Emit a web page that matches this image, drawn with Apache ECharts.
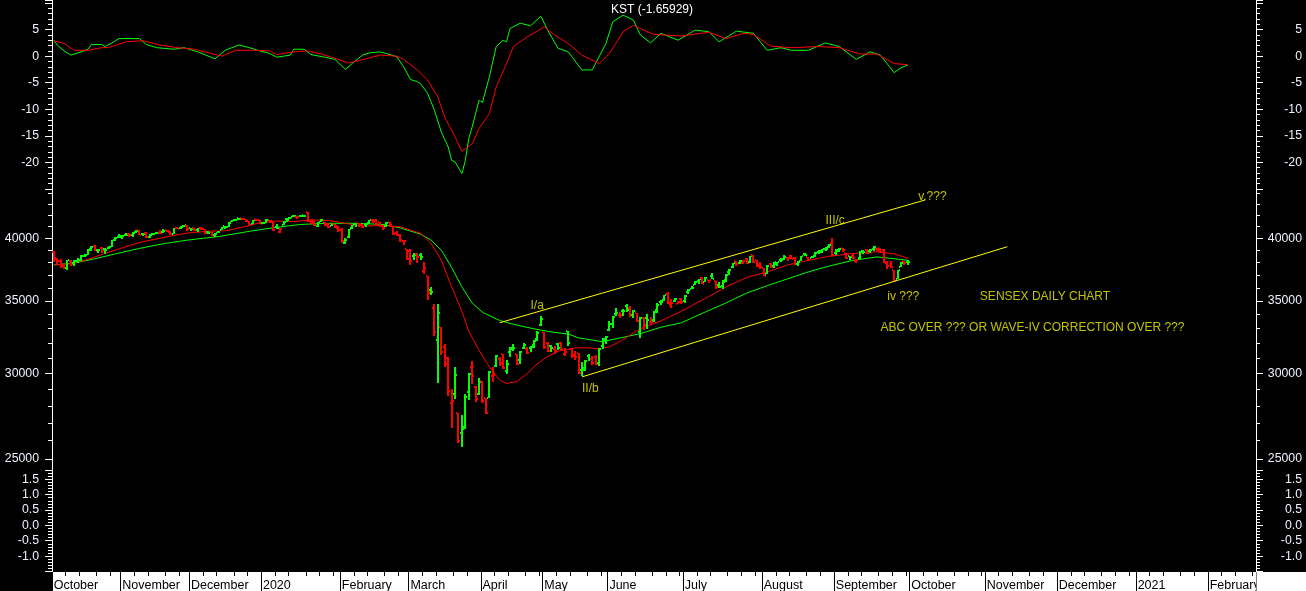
<!DOCTYPE html>
<html><head><meta charset="utf-8">
<script src="https://cdn.jsdelivr.net/npm/echarts@6.0.0/dist/echarts.min.js"></script>
<style>html,body{margin:0;padding:0;background:#000;overflow:hidden}#c{width:1306px;height:591px}</style>
</head><body><div id="c"></div>
<script>
// ---------- axis categories (trading days per month) ----------
const monthLabels = ['October','November','December','2020','February','March','April','May','June','July','August','September','October','November','December','2021','February'];
const monthDays   = [20,20,21,23,20,21,18,19,22,23,21,22,22,21,23,21,14];
const weekTickDays = [4,8,13,17,21];

// ---------- SENSEX daily OHLC (Oct 2019 - Sep 2020) ----------
const prevCloseStart = 38667;
const open = [
38813,38360,38128,37750,37548,38115,37930,38138,38220,38532,38630,39069,39393,39014,39145,39105,39188,39307,39888,40119,
40196,40246,40389,40310,40512,40695,40387,40456,40120,40346,40423,40462,40525,40704,40588,40400,40925,40884,41017,41085,
40857,40853,40706,40930,40768,40520,40500,40279,40463,40707,41033,40986,41448,41558,41757,41727,41664,41488,41258,41682,41570,
41350,41340,41554,41378,40983,40544,41138,41684,41733,41913,41900,41970,41996,42263,41522,41500,41107,41440,41396,41223,41050,41217,41062,
40753,39615,40119,40884,41201,41331,41200,41109,41310,41616,41534,41376,41070,41050,41400,41022,40424,40262,39782,39088,
38910,38487,38713,38621,37300,36950,35868,34472,32200,33104,31739,31011,28195,28732,27590,26437,26750,28838,30401,29170,28734,
29505,28497,28472,29815,30471,30950,31240,30146,31404,31694,31241,30902,31689,31590,31656,31886,32250,33260,
32748,31986,31816,31613,31965,32012,31290,32840,31571,31231,31342,30251,30347,31117,30909,31042,30707,31773,32263,
32913,33300,34018,34000,34236,34633,34483,33989,34124,32768,33735,33777,33451,33593,34337,34947,35053,35538,34725,35023,34807,35168,
35000,35657,35925,36215,36512,36764,36450,36584,36949,36501,36227,36110,36620,37211,37622,38120,37976,37960,38255,38040,38574,38188,37804,
37580,37091,37883,37731,37892,38195,38316,38337,38519,38376,37906,38098,38647,38452,38370,38540,38885,38929,39129,39270,39627,
38754,39053,39221,38776,38501,38548,38076,38354,38906,39001,38899,39064,39137,39145,38995,37972,37836,37370,36674,37602,38100,38016];
const high = [
38945,38366,38298,37800,38216,38178,38210,38339,38569,38679,39094,39344,39441,39131,39258,39220,39316,39880,40112,40392,
40248,40483,40466,40507,40689,40749,40458,40521,40352,40484,40534,40676,40816,40729,40638,40918,40966,41034,41163,41120,
40904,40901,40890,40950,40800,40612,40525,40450,40631,41010,41056,41401,41614,41719,41809,41752,41680,41510,41615,41690,41600,
41444,41650,41555,41378,41231,40868,41483,41775,41899,42059,41920,42032,42063,42274,41590,41520,41430,41643,41414,41322,41283,41227,41070,
40906,40035,40810,41179,41335,41358,41234,41318,41594,41702,41709,41420,41172,41373,41420,41022,40631,40365,39867,39088,
39083,38754,38801,38771,38000,36950,36059,34767,34769,33104,31969,31081,29009,30418,27590,27462,28707,30005,30818,29233,29718,
29505,28497,30157,30408,31227,31102,31263,30840,31725,31950,31244,31436,31980,31729,31790,32189,32814,33887,
32748,32055,31884,31772,32043,32050,31657,32845,31583,31455,31342,30721,30875,31236,31139,31177,31694,32328,32503,
33561,33888,34506,34186,34434,34811,34611,34333,34149,33860,33827,34022,33795,34272,34843,35100,35482,35707,35130,35254,35030,35233,
35454,35877,36110,36506,36719,36853,36800,36621,37160,36521,36470,36591,37059,37492,37989,38135,38180,38174,38344,38524,38617,38228,38000,
37581,37765,37981,38071,38064,38321,38588,38452,38613,38473,38082,38556,38757,38452,38542,38843,38994,39124,39293,39495,40010,
39073,39196,39224,38802,38546,38790,38269,38903,39038,39137,39100,39360,39211,39189,39088,38134,38115,37370,37428,38050,38154,38236];
const low = [
38056,37889,37553,37464,37415,37751,37746,37990,38100,38456,38609,38905,38922,38798,38763,38725,39136,39262,39767,40043,
39957,40215,40095,40121,40444,40248,40219,40004,40032,40244,40337,40382,40472,40512,40287,40360,40762,40783,40952,40672,
40663,40596,40575,40716,40339,40379,40205,40135,40446,40681,40800,40966,41376,41499,41573,41573,41422,41114,41202,41485,41204,
41225,41340,41345,40614,40821,40476,41124,41447,41705,41837,41703,41843,41867,41446,41246,41044,40999,41406,41084,40903,41022,40866,40557,
39632,39510,40041,40807,40996,40990,40869,40975,41270,41346,41130,41003,40682,41015,41080,40252,40187,39726,39453,38220,
37785,38220,37936,38235,37050,35109,35416,32493,29388,31214,30394,28613,26714,28433,25880,25638,26674,28330,29348,28227,28629,
28176,27501,28470,29461,30428,30474,30297,29968,31040,31445,30574,30600,31600,31250,31421,31658,32159,33215,
31589,31400,31394,31279,31524,31532,31105,31834,30999,30871,29969,29860,30168,30791,30529,30576,30499,31600,31953,
32868,33033,33875,33787,33914,34208,33842,33749,33462,32348,32924,32979,33245,33459,34140,34701,35000,34801,34500,34894,34767,34812,
34885,35560,35877,36191,36326,36280,36435,36352,36645,35877,35976,35916,36477,37033,37536,37731,37859,37882,37863,37973,37948,37626,37457,
36911,37091,37574,37531,37718,38051,38222,38116,38255,37772,37688,38098,38560,38129,38321,38410,38684,38800,38962,39180,38494,
38618,38855,38893,38249,38175,38288,37935,38286,38662,38672,38801,38975,38910,38757,37915,37488,37536,36495,36663,37602,37810,37766];
const close = [
38305,38106,37673,37532,38178,37880,38127,38214,38506,38599,39052,39298,38964,39059,39020,39058,39250,39832,40051,40129,
40165,40301,40248,40469,40654,40323,40345,40116,40286,40357,40470,40469,40651,40575,40359,40889,40821,41021,41130,40794,
40802,40675,40850,40780,40446,40487,40240,40413,40582,40939,40939,41352,41559,41673,41681,41642,41461,41163,41575,41558,41254,
41306,41626,41464,40677,40869,40818,41452,41600,41859,41952,41872,41933,41945,41529,41324,41115,41386,41613,41155,40967,41198,40914,40723,
39736,39872,40789,41143,41306,41141,40980,41216,41566,41460,41258,41056,40895,41324,41170,40364,40282,39889,39746,38297,
38144,38623,38409,38471,37577,35634,35697,32778,34103,31390,30579,28869,28288,29916,25981,26675,28536,29947,29816,28440,29468,
28265,27591,30067,29894,31160,30690,30380,30602,31589,31648,30636,31380,31863,31327,31744,32115,32720,33717,
31715,31453,31686,31443,31642,31561,31371,32009,31123,31098,30029,30196,30819,30933,30673,30609,31605,32201,32424,
33303,33825,34110,33981,34287,34371,33957,34247,33538,33781,33229,33605,33508,34208,34731,34911,35430,34868,34843,35171,34962,34916,
35414,35843,36021,36487,36675,36330,36738,36594,36694,36033,36052,36471,37020,37418,37930,37871,38140,38129,37934,38493,38071,37736,37607,
36940,37688,37663,38025,38040,38182,38407,38370,38310,37877,38051,38528,38615,38220,38434,38799,38843,39073,39113,39467,38628,
38900,39086,38990,38357,38417,38365,38193,38840,38854,38756,39044,39303,38980,38845,38034,37734,37668,36553,37389,37982,37973,38068];

// ---------- moving averages [day index, value] ----------
const maFast = [[0,37800],[5,37900],[10,38250],[15,38750],[20,39200],[25,39650],[30,39950],[35,40250],[40,40500],[45,40600],[50,40650],[55,40950],[60,41350],[65,41500],[70,41450],[75,41600],[80,41550],[85,41300],[90,41050],[95,41100],[101,41000],[104,40700],[107,40430],[110,39580],[113,38170],[116,36070],[119,34250],[121,32820],[124,31520],[127,30420],[130,29570],[132,29370],[135,29480],[138,29990],[141,30630],[144,31100],[147,31450],[152,31680],[156,31680],[159,31600],[162,31750],[165,32100],[171,33000],[177,33550],[183,34250],[190,35200],[196,36070],[202,36800],[208,37240],[214,37800],[220,38170],[226,38500],[233,38720],[240,38870],[245,38700],[249,38340]];
const maSlow = [[0,37800],[6,37950],[12,38300],[18,38700],[25,39150],[32,39550],[39,39850],[48,40150],[58,40650],[65,40950],[72,41200],[80,41300],[88,41300],[96,41200],[101,40900],[107,40350],[110,39850],[113,39000],[116,37600],[119,36070],[122,34850],[125,34170],[130,33580],[134,33310],[140,32990],[145,32770],[150,32630],[153,32360],[157,32210],[160,32100],[164,32300],[171,32650],[177,33100],[183,33420],[190,34200],[196,34860],[202,35600],[208,36160],[214,36700],[220,37240],[226,37700],[233,38170],[240,38450],[245,38300],[249,38170]];

// ---------- KST and its signal [day index, value] ----------
const kstLine = [[0,3.0],[1,2.1],[3,1.0],[5,0.2],[8,0.8],[10,1.3],[11,2.2],[14,2.2],[15,1.8],[17,2.5],[19,3.3],[25,3.3],[27,2.2],[30,1.6],[35,1.3],[38,1.6],[42,0.8],[47,-0.5],[50,1.1],[54,2.1],[57,1.6],[60,1.0],[63,0.5],[65,-0.2],[69,0.2],[70,1.3],[73,1.3],[75,0.3],[79,-0.2],[82,-0.6],[85,-2.5],[87,-1.4],[90,0.2],[92,0.6],[95,0.8],[97,0.5],[100,-0.1],[102,-2.0],[104,-4.4],[106,-4.8],[107,-5.2],[109,-7.0],[111,-10.2],[113,-14.3],[115,-17.1],[116,-19.6],[117,-19.9],[119,-22.1],[120,-19.6],[121,-15.5],[122,-13.3],[124,-8.3],[125,-8.7],[127,-3.9],[129,1.8],[131,3.0],[132,2.7],[133,5.2],[136,6.2],[139,5.7],[142,7.5],[144,4.9],[147,1.5],[150,0.8],[154,-2.6],[157,-2.6],[161,2.4],[163,6.5],[166,7.7],[169,6.8],[171,4.0],[174,2.5],[177,4.3],[182,3.0],[187,4.9],[191,4.6],[194,2.7],[199,4.7],[204,4.3],[208,1.1],[212,1.6],[215,1.1],[220,1.1],[225,2.5],[229,1.8],[234,-0.6],[238,0.8],[241,0.2],[245,-3.1],[247,-2.2],[249,-1.66]];
const kstSignal = [[0,2.9],[3,2.4],[6,1.1],[10,1.1],[14,1.6],[16,1.6],[21,2.7],[26,2.9],[31,2.1],[36,1.6],[41,1.3],[46,0.5],[49,0.0],[53,1.1],[58,1.1],[63,1.0],[65,0.3],[70,0.8],[74,1.0],[78,0.4],[82,-0.4],[86,-1.3],[91,-0.5],[95,0.2],[100,0.0],[102,-0.6],[106,-2.6],[109,-4.5],[112,-7.7],[114,-11.5],[117,-15.2],[119,-17.9],[122,-16.5],[124,-13.6],[127,-10.8],[129,-5.8],[132,-1.4],[134,1.8],[138,3.6],[143,5.5],[146,4.0],[150,2.4],[154,0.2],[159,-1.4],[162,0.5],[166,4.6],[169,5.8],[171,5.2],[173,4.6],[175,4.1],[183,3.8],[191,4.5],[196,3.3],[201,4.3],[204,4.1],[209,1.9],[215,1.6],[223,1.8],[229,1.6],[235,0.4],[240,0.4],[245,-1.4],[249,-1.6]];

// ---------- tick values ----------
const priceMajorTicks = [25000, 30000, 35000, 40000];
const priceMinorTicks = [25000,26000,27000,28000,29000,30000,31000,32000,33000,34000,35000,36000,37000,38000,39000,40000,41000,42000,43000,44000];
const priceRange = [24425, 44430];
const kstRange = [-25, 10.566];
const lowerRange = [-1.5, 1.8];

// ---------- channel lines and notes ----------
const trendUpper = [[130,33420],[254,43400]];
const trendLower = [[154,29780],[278,39290]];
const notes = [
  {text:'I/a', idx:139, price:34630},
  {text:'II/b', idx:154, price:29060},
  {text:'III/c', idx:225, price:41545},
  {text:'v.???', idx:252, price:43705},
  {text:'iv ???', idx:243, price:35320},
  {text:'SENSEX DAILY CHART', idx:270, price:35320},
  {text:'ABC OVER ??? OR WAVE-IV CORRECTION OVER ???', idx:241, price:33040}
];
const kstTitle = 'KST (-1.65929)';

// ---------- build ----------
const cats = [], isMonthStart = [], isWeekTick = [];
monthDays.forEach((n, m) => {
  for (let k = 0; k < n; k++) {
    cats.push(m + '-' + k);
    isMonthStart.push(k === 0);
    isWeekTick.push(weekTickDays.indexOf(k) >= 0);
  }
});
const ohlc = close.map((c, i) => [i, open[i], high[i], low[i], c, i === 0 ? prevCloseStart : close[i - 1]]);

const FONT = "'Liberation Sans', Arial, sans-serif";
const LBL = {color:'#eef2ff', fontSize:12.3, fontFamily:FONT};
const WHITE = {color:'#ffffff', width:1};
const L = 52, R = 50;

function valAxis(grid, pos, range, interval, fmt) {
  return {
    gridIndex:grid, type:'value', position:pos, min:range[0], max:range[1], interval:interval,
    axisLine:{show:true, onZero:false, lineStyle:WHITE},
    axisTick:{show:true, length:7, lineStyle:WHITE},
    minorTick:{show:true, splitNumber:5, length:4, lineStyle:WHITE},
    splitLine:{show:false}, minorSplitLine:{show:false},
    axisLabel:Object.assign({}, LBL, pos === 'right' ? {align:'right', margin:46} : {margin:13}, {formatter:fmt})
  };
}
function priceTickAxis(pos, major) {
  const lr = [Math.log(priceRange[0]), Math.log(priceRange[1])];
  return {
    gridIndex:1, type:'value', position:pos, min:lr[0], max:lr[1],
    axisLine:{show:major, onZero:false, lineStyle:WHITE},
    axisTick:{show:true, length:major ? 7 : 4, lineStyle:WHITE, customValues:(major ? priceMajorTicks : priceMinorTicks).map(Math.log)},
    splitLine:{show:false},
    axisLabel: major ? Object.assign({}, LBL, pos === 'right' ? {align:'right', margin:46} : {margin:13},
      {customValues:priceMajorTicks.map(Math.log), formatter:v => String(Math.round(Math.exp(v)))}) : {show:false}
  };
}

const kstFmt = v => (v < -20 || v > 5) ? '' : String(v);
const lowFmt = v => (v < -1.2 || v > 1.6) ? '' : v.toFixed(1);

const option = {
  backgroundColor:'#000',
  animation:false,
  title:{text:kstTitle, left:611, top:4, padding:0, textStyle:{color:'#ffffff', fontSize:12, fontWeight:'normal', fontFamily:FONT}},
  grid:[
    {left:L, right:R, top:0, height:189, outerBoundsMode:'none'},
    {left:L, right:R, top:189, height:281, outerBoundsMode:'none'},
    {left:L, right:R, top:470, height:101.5, outerBoundsMode:'none'},
    {left:L, right:R, top:572, height:19, show:true, backgroundColor:'#ffffff', borderWidth:0, outerBoundsMode:'none'}
  ],
  graphic:[{type:'rect', z:100, shape:{x:1256.5, y:572, width:50, height:19}, style:{fill:'#ffffff'}}],
  xAxis:[
    {gridIndex:0, type:'category', data:cats, show:false},
    {gridIndex:1, type:'category', data:cats, show:false},
    {gridIndex:2, type:'category', data:cats, show:false},
    {gridIndex:3, type:'category', data:cats, position:'top',
      axisLine:{show:false, onZero:false},
      axisTick:{show:true, inside:true, length:4, interval:(i) => !!isWeekTick[i], lineStyle:{color:'#000', width:1}},
      splitLine:{show:true, interval:(i) => !!isMonthStart[i], lineStyle:{color:'#000', width:1}},
      axisLabel:{show:true, inside:true, margin:7, align:'left', interval:(i) => !!isMonthStart[i],
        formatter:(v) => monthLabels[+v.split('-')[0]], color:'#000', fontSize:12.5, fontFamily:FONT}}
  ],
  yAxis:[
    valAxis(0, 'left', kstRange, 5, kstFmt),
    valAxis(0, 'right', kstRange, 5, kstFmt),
    {gridIndex:1, type:'log', min:priceRange[0], max:priceRange[1], show:false},
    priceTickAxis('left', true),
    priceTickAxis('left', false),
    priceTickAxis('right', true),
    priceTickAxis('right', false),
    valAxis(2, 'left', lowerRange, 0.5, lowFmt),
    valAxis(2, 'right', lowerRange, 0.5, lowFmt),
    {gridIndex:3, type:'value', show:false, min:0, max:1}
  ],
  series:[
    {type:'line', name:'KST', xAxisIndex:0, yAxisIndex:0, data:kstLine, symbol:'none', lineStyle:{color:'#00ff00', width:1}, z:3},
    {type:'line', name:'Signal', xAxisIndex:0, yAxisIndex:0, data:kstSignal, symbol:'none', lineStyle:{color:'#ff0000', width:1}, z:4},
    {type:'line', name:'MA slow', xAxisIndex:1, yAxisIndex:2, data:maSlow, symbol:'none', lineStyle:{color:'#00ff00', width:1}, z:3},
    {type:'line', name:'MA fast', xAxisIndex:1, yAxisIndex:2, data:maFast, symbol:'none', lineStyle:{color:'#ff0000', width:1}, z:3},
    {type:'custom', name:'SENSEX', xAxisIndex:1, yAxisIndex:2, data:ohlc, clip:true, z:5,
      encode:{x:0, y:[1,2,3,4]},
      renderItem:function (params, api) {
        const i = api.value(0);
        const o = api.value(1), h = api.value(2), l = api.value(3), c = api.value(4), pc = api.value(5);
        const col = c >= pc ? '#00ff00' : '#ff0000';
        const pt = api.coord([i, h]), pb = api.coord([i, l]);
        const yo = Math.round(api.coord([i, o])[1]), yc = Math.round(api.coord([i, c])[1]);
        const x = Math.round(pt[0] - 1);
        const y0 = Math.round(pt[1]);
        return {type:'group', children:[
          {type:'rect', shape:{x:x, y:y0, width:2, height:Math.max(1, Math.round(pb[1]) - y0)}, style:{fill:col}},
          {type:'rect', shape:{x:x - 1, y:yo - 1, width:1, height:2}, style:{fill:col}},
          {type:'rect', shape:{x:x + 2, y:yc - 1, width:1, height:2}, style:{fill:col}}
        ]};
      }},
    {type:'line', name:'upper', xAxisIndex:1, yAxisIndex:2, data:trendUpper, symbol:'none', lineStyle:{color:'#ffff00', width:1}, z:6},
    {type:'line', name:'lower', xAxisIndex:1, yAxisIndex:2, data:trendLower, symbol:'none', lineStyle:{color:'#ffff00', width:1}, z:6},
    {type:'scatter', name:'notes', xAxisIndex:1, yAxisIndex:2, symbolSize:0, itemStyle:{color:'transparent'}, z:7,
      data:notes.map(n => ({name:n.text, value:[n.idx, n.price]})),
      label:{show:true, position:'inside', align:'left', verticalAlign:'middle', formatter:'{b}', color:'#f0f000', fontSize:12, fontFamily:FONT}}
  ]
};
const chart = echarts.init(document.getElementById('c'), null, {renderer:'canvas', width:1306, height:591});
chart.setOption(option);
</script>
</body></html>
